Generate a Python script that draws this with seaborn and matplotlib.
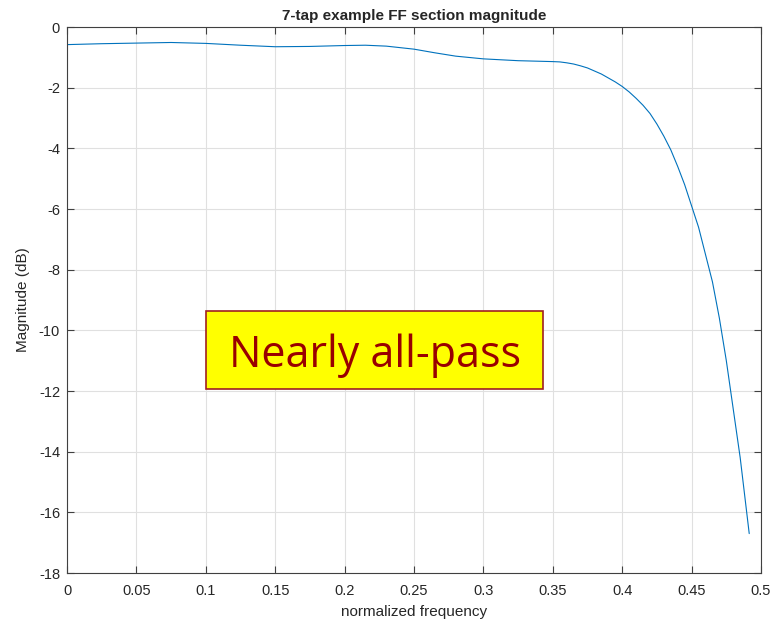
import matplotlib
matplotlib.use('Agg')
import matplotlib.pyplot as plt
from matplotlib.patches import Rectangle
import pandas as pd
import seaborn as sns

# values
freq = [0.0, 0.025, 0.05, 0.075, 0.1, 0.125, 0.15, 0.175, 0.2, 0.215, 0.23,
        0.25, 0.265, 0.28, 0.3, 0.325, 0.35, 0.355, 0.36, 0.365, 0.37, 0.375,
        0.38, 0.385, 0.39, 0.395, 0.4, 0.405, 0.41, 0.415, 0.42, 0.425, 0.43,
        0.435, 0.44, 0.445, 0.45, 0.455, 0.46, 0.465, 0.47, 0.475, 0.48,
        0.485, 0.4915]
mag_db = [-0.58, -0.55, -0.53, -0.51, -0.54, -0.60, -0.65, -0.64, -0.61, -0.60, -0.63,
          -0.73, -0.85, -0.96, -1.05, -1.11, -1.14, -1.15, -1.18, -1.22, -1.28, -1.35,
          -1.45, -1.55, -1.68, -1.81, -1.96, -2.14, -2.35, -2.58, -2.85, -3.2, -3.6,
          -4.05, -4.6, -5.2, -5.9, -6.6, -7.5, -8.4, -9.6, -11.0, -12.6,
          -14.2, -16.7]
x_ticks = [0, 0.05, 0.1, 0.15, 0.2, 0.25, 0.3, 0.35, 0.4, 0.45, 0.5]
y_ticks = list(range(-18, 1, 2))

sns.set_style('whitegrid')
plt.rcParams['font.family'] = ['Liberation Sans', 'DejaVu Sans']

df = pd.DataFrame({'freq': freq, 'mag': mag_db})

fig = plt.figure(figsize=(7.73, 6.24), dpi=100)
ax = fig.add_axes([0.0867, 0.0817, 0.8978, 0.875])
sns.lineplot(data=df, x='freq', y='mag', ax=ax, color='#0072BD', linewidth=0.8)

ax.set_xlim(0, 0.5)
ax.set_ylim(-18, 0)
ax.set_xticks(x_ticks)
ax.set_xticklabels(['0' if t == 0 else f'{t:g}' for t in x_ticks])
ax.set_yticks(y_ticks)
ax.set_yticklabels([str(t) for t in y_ticks])
ax.grid(True, color='#e0e0e0', linewidth=0.8)
for s in ax.spines.values():
    s.set_color('#404040')
    s.set_linewidth(0.8)
ax.tick_params(direction='in', length=5, width=0.8, color='#404040',
               top=True, right=True, labelsize=10.5, labelcolor='#262626',
               bottom=True, left=True)
ax.tick_params(axis='x', pad=8)
ax.tick_params(axis='y', pad=5)
ax.set_xlabel('normalized frequency', fontsize=11, color='#262626', labelpad=5)
ax.set_ylabel('Magnitude (dB)', fontsize=11, color='#262626', labelpad=6)
ax.set_title('7-tap example FF section magnitude', fontsize=11, fontweight='bold', pad=5)

# annotation box
ax.add_patch(Rectangle((0.1001, -11.94), 0.2429, 2.58, facecolor='#ffff00',
                       edgecolor='#a02020', linewidth=1.2, zorder=5))
ax.text(0.2216, -10.85, 'Nearly all-pass', ha='center', va='center', fontsize=31,
        color='#990000', family=['Open Sans', 'DejaVu Sans'], zorder=6)

fig.savefig('out.png', dpi=100)
